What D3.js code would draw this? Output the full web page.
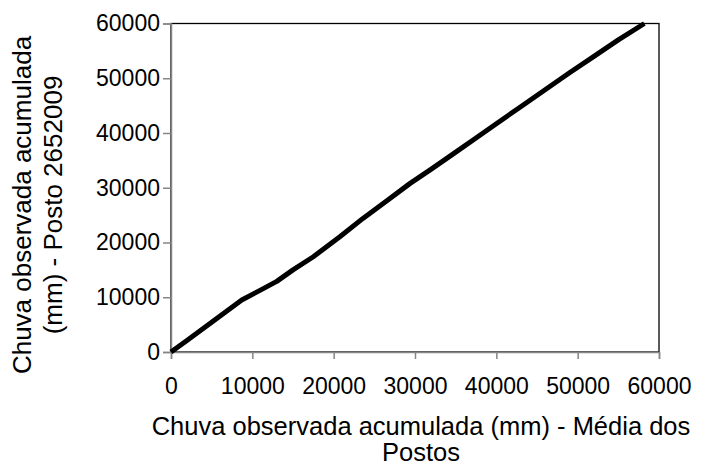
<!DOCTYPE html>
<html>
<head>
<meta charset="utf-8">
<script src="https://cdn.jsdelivr.net/npm/d3@7"></script>
<style>
  body { margin: 0; background: #fff; }
  text { font-family: "Liberation Sans", Arial, sans-serif; fill: #000; }
</style>
</head>
<body>
<svg id="chart" width="703" height="466"></svg>
<script>
// dupla massa: media dos postos (x) vs posto 2652009 (y), mm acumulados
var mediaPostos = [0, 2000, 4000, 6000, 8700, 11000, 13000, 15000, 17500, 20800, 23600, 26500,
                   29400, 32000, 35100, 37500, 40000, 43000, 46000, 49000, 52000, 55000, 58200];
var posto2652009 = [0, 2150, 4350, 6550, 9500, 11300, 12900, 15000, 17400, 21100, 24400, 27600,
                    30800, 33400, 36600, 39100, 41700, 44800, 47900, 51000, 54000, 57000, 60000];
var xTicks = [0, 10000, 20000, 30000, 40000, 50000, 60000];
var yTicks = [0, 10000, 20000, 30000, 40000, 50000, 60000];

var plotLeft = 171, plotRight = 659, plotTop = 23.5, plotBottom = 352;

var svg = d3.select('#chart');
var x = d3.scaleLinear().domain([0, 60000]).range([plotLeft, plotRight]);
var y = d3.scaleLinear().domain([0, 60000]).range([plotBottom, plotTop]);

// moldura da area do grafico
svg.append('rect')
    .attr('x', plotLeft).attr('y', plotTop)
    .attr('width', plotRight - plotLeft).attr('height', plotBottom - plotTop)
    .attr('fill', 'none').attr('stroke', '#000').attr('stroke-width', 1.3);

var xAxis = svg.append('g')
    .attr('transform', 'translate(0,' + plotBottom + ')')
    .call(d3.axisBottom(x).tickValues(xTicks).tickSize(7).tickPadding(19).tickFormat(d3.format('d')));
var yAxis = svg.append('g')
    .attr('transform', 'translate(' + plotLeft + ',0)')
    .call(d3.axisLeft(y).tickValues(yTicks).tickSize(8).tickPadding(3).tickFormat(d3.format('d')));

[xAxis, yAxis].forEach(function(g) {
    g.select('.domain').attr('stroke', '#868686').attr('stroke-width', 1.5);
    g.selectAll('.tick line').attr('stroke', '#868686').attr('stroke-width', 1.5);
    g.selectAll('.tick text')
        .attr('fill', '#000')
        .style('font-size', '23px')
        .style('font-family', '"Liberation Sans", Arial, sans-serif');
});

var pts = mediaPostos.map(function(v, i) { return [v, posto2652009[i]]; });
svg.append('path')
    .datum(pts)
    .attr('fill', 'none')
    .attr('stroke', '#000')
    .attr('stroke-width', 5)
    .attr('stroke-linejoin', 'round')
    .attr('d', d3.line().x(function(d) { return x(d[0]); }).y(function(d) { return y(d[1]); }));

// titulos dos eixos
var xt = svg.append('text')
    .attr('text-anchor', 'middle')
    .style('font-size', '25.5px');
xt.append('tspan').attr('x', 421).attr('y', 435).text('Chuva observada acumulada (mm) - Média dos');
xt.append('tspan').attr('x', 421).attr('y', 461).text('Postos');

var yt = svg.append('text')
    .attr('text-anchor', 'middle')
    .attr('transform', 'translate(0,205) rotate(-90)')
    .style('font-size', '26px');
yt.append('tspan').attr('x', 0).attr('y', 31).text('Chuva observada acumulada');
yt.append('tspan').attr('x', 0).attr('y', 62).text('(mm) - Posto 2652009');
</script>
</body>
</html>
